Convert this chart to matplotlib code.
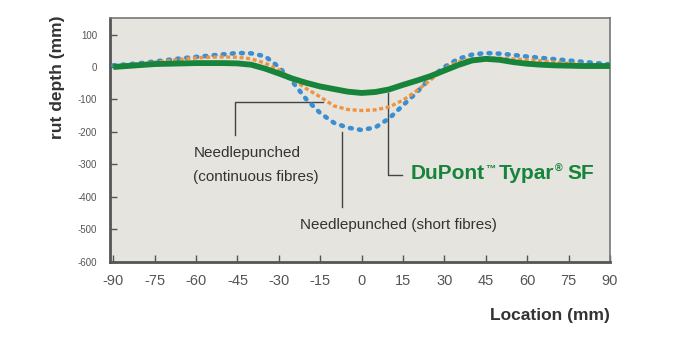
import matplotlib
matplotlib.use("Agg")
import matplotlib.pyplot as plt

# Location (mm) and rut depth (mm)
location = [-90, -85, -80, -75, -70, -65, -60, -55, -50, -45, -40, -35, -30,
            -25, -20, -15, -10, -5, 0, 5, 10, 15, 20, 25, 30, 35, 40, 45,
            50, 55, 60, 65, 70, 75, 80, 85, 90]
short_fibres = [5, 8, 12, 17, 22, 27, 31, 35, 39, 43, 42, 33, 0,
                -46, -100, -142, -172, -187, -194, -186, -158, -118, -78, -33, 0, 25, 38, 43,
                41, 37, 32, 28, 24, 20, 16, 12, 8]
continuous_fibres = [3, 6, 10, 15, 19, 24, 28, 30, 31, 30, 25, 12, -9,
                     -38, -67, -92, -120, -131, -134, -132, -123, -102, -73, -40, -5, 16, 25, 28,
                     27, 25, 22, 19, 15, 11, 8, 5, 3]
typar_sf = [0, 3, 6, 9, 10, 11, 12, 12, 12, 11, 7, -5, -20,
            -36, -49, -60, -68, -76, -80, -77, -69, -55, -42, -28, -11, 6, 20, 25,
            22, 15, 10, 7, 5, 4, 3, 3, 3]

x_ticks = [-90, -75, -60, -45, -30, -15, 0, 15, 30, 45, 60, 75, 90]
y_ticks = [100, 0, -100, -200, -300, -400, -500, -600]

plt.rcParams["font.family"] = ["Liberation Sans", "DejaVu Sans"]
plt.rcParams["axes.unicode_minus"] = False

fig = plt.figure(figsize=(6.9, 3.45), dpi=100)
ax = fig.add_axes([0.159, 0.241, 0.725, 0.707])
ax.set_facecolor("#e6e4df")

ax.plot(location, short_fibres, color="#3a8fd0", lw=3.3, linestyle=(0, (0.4, 1.6)),
        dash_capstyle="round", zorder=3)
ax.plot(location, continuous_fibres, color="#ee9440", lw=2.4, linestyle=(0, (1.2, 0.8)),
        zorder=3)
ax.plot(location, typar_sf, color="#17843c", lw=4.2, solid_capstyle="butt", zorder=4)

# leader lines
lc = "#444444"
ax.plot([-46, -46, -14], [-210, -108, -108], color=lc, lw=1, zorder=2)
ax.plot([-7, -7], [-432, -200], color=lc, lw=1, zorder=2)
ax.plot([9.5, 9.5, 14.5], [-80, -333, -333], color=lc, lw=1, zorder=2)

tc = "#333333"
ax.text(-61, -265, "Needlepunched", fontsize=11, color=tc, va="center")
ax.text(-61, -340, "(continuous fibres)", fontsize=11, color=tc, va="center")
ax.text(-22.5, -488, "Needlepunched (short fibres)", fontsize=11, color=tc, va="center")

# DuPont(TM) Typar(R) SF with small superscript marks
green = "#17843c"
t1 = ax.text(17.7, -327, "DuPont", fontsize=15, color=green, fontweight="bold",
             va="center")
t2 = ax.annotate("\u2122", xy=(1, 1), xycoords=t1, xytext=(0.5, 0),
                 textcoords="offset points", fontsize=7.5, color=green,
                 fontweight="bold", va="top", ha="left")
t3 = ax.annotate("Typar", xy=(1, 0), xycoords=(t2, t1), xytext=(2.5, 0),
                 textcoords="offset points", fontsize=15, color=green,
                 fontweight="bold", va="bottom", ha="left")
t4 = ax.annotate("\u00ae", xy=(1, 1), xycoords=t3, xytext=(0.5, 0),
                 textcoords="offset points", fontsize=7.5, color=green,
                 fontweight="bold", va="top", ha="left")
ax.annotate("SF", xy=(1, 0), xycoords=(t4, t1), xytext=(3.5, 0),
            textcoords="offset points", fontsize=15, color=green,
            fontweight="bold", va="bottom", ha="left")

ax.set_xlim(-91.3, 90)
ax.set_ylim(-600, 151)
ax.set_xticks(x_ticks)
ax.set_yticks(y_ticks)
ax.tick_params(axis="x", direction="in", length=5, width=1, colors="#555555",
               labelsize=10.5, pad=9)
ax.tick_params(axis="y", direction="in", length=5, width=1, colors="#555555",
               labelsize=7, pad=9)
for side in ["left", "bottom"]:
    ax.spines[side].set_color("#555555")
    ax.spines[side].set_linewidth(2)
for side in ["top", "right"]:
    ax.spines[side].set_color("#777777")
    ax.spines[side].set_linewidth(1.2)

fig.text(0.084, 0.775, "rut depth (mm)", rotation=90, fontsize=12.5, fontweight="bold",
         color=tc, ha="center", va="center")
fig.text(0.884, 0.085, "Location (mm)", fontsize=12.5, fontweight="bold",
         color=tc, ha="right", va="center")

fig.savefig("out.png", dpi=100)
